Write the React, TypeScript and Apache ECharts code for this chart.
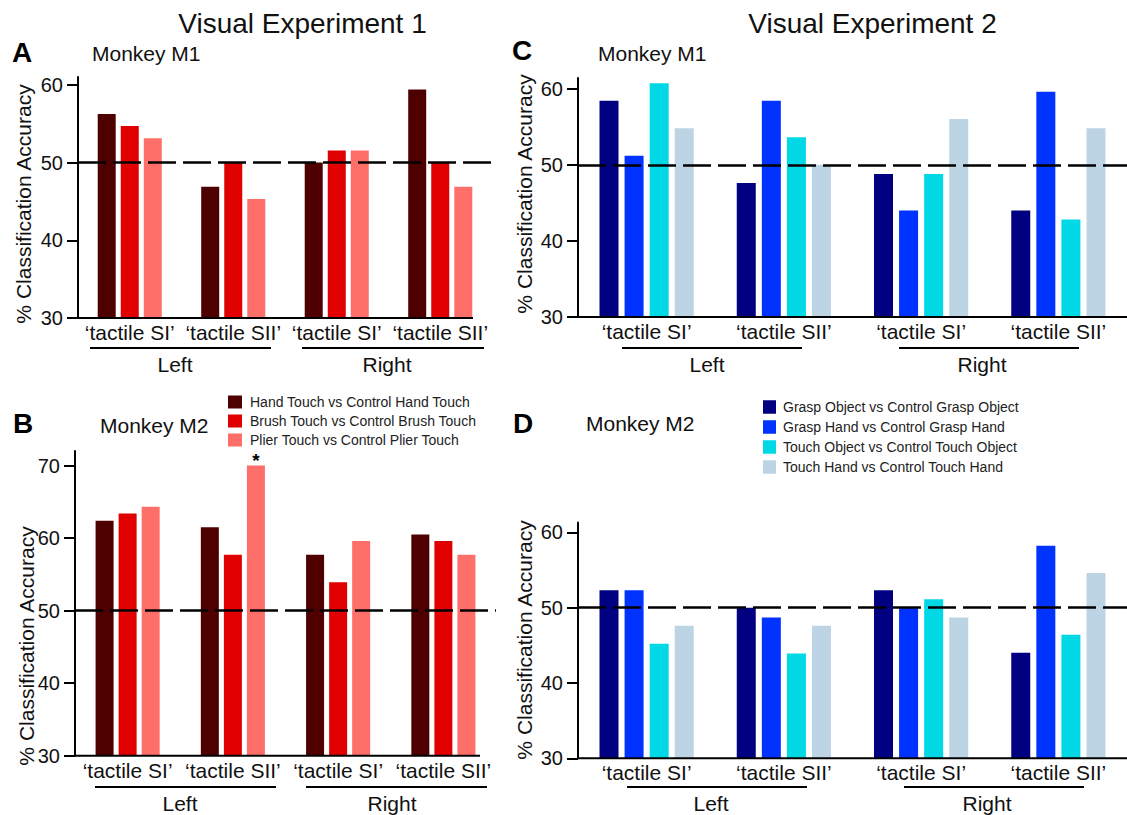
import React, { useEffect, useRef } from 'react';
import * as echarts from 'echarts';

// ---------- data ----------
const regionLabels = ['‘tactile SI’', '‘tactile SII’', '‘tactile SI’', '‘tactile SII’'];
const hemisphereLabels = ['Left', 'Right'];
const yTicksM1 = [30, 40, 50, 60];
const yTicksExp1M2 = [30, 40, 50, 60, 70];
const chanceLevel = 50;

const exp1Names = [
  'Hand Touch vs Control Hand Touch',
  'Brush Touch vs Control Brush Touch',
  'Plier Touch vs Control Plier Touch',
];
const exp2Names = [
  'Grasp Object vs Control Grasp Object',
  'Grasp Hand vs Control Grasp Hand',
  'Touch Object vs Control Touch Object',
  'Touch Hand vs Control Touch Hand',
];

// Visual Experiment 1, Monkey M1 (panel A)
const aHandTouch = [56.25, 46.88, 50.0, 59.38];
const aBrushTouch = [54.69, 50.0, 51.56, 50.0];
const aPlierTouch = [53.13, 45.31, 51.56, 46.88];

// Visual Experiment 1, Monkey M2 (panel B)
const bHandTouch = [62.4, 61.5, 57.7, 60.5];
const bBrushTouch = [63.4, 57.7, 53.9, 59.6];
const bPlierTouch = [64.3, 70.0, 59.6, 57.7];
const bSignificant = [false, true, false, false]; // Plier Touch marked with *

// Visual Experiment 2, Monkey M1 (panel C)
const cGraspObject = [58.4, 47.6, 48.8, 44.0];
const cGraspHand = [51.2, 58.4, 44.0, 59.6];
const cTouchObject = [60.7, 53.6, 48.8, 42.8];
const cTouchHand = [54.8, 50.0, 56.0, 54.8];

// Visual Experiment 2, Monkey M2 (panel D)
const dGraspObject = [52.3, 50.0, 52.3, 44.0];
const dGraspHand = [52.3, 48.7, 50.0, 58.2];
const dTouchObject = [45.2, 43.9, 51.1, 46.4];
const dTouchHand = [47.6, 47.6, 48.7, 54.6];

// ---------- styles ----------
const exp1Colors = ['#4e0000', '#e00000', '#ff6f69'];
const exp2Colors = ['#000080', '#0033ff', '#00d8e6', '#bcd4e3'];
const FONT = '"Liberation Sans", Arial, Helvetica, sans-serif';

type Panel = {
  letter: string;
  monkey: string;
  grid: { left: number; top: number; width: number; height: number };
  max: number;
  ticks: number[];
  names: string[];
  colors: string[];
  series: number[][];
  barWidth: number;
  barGap: string;
  axisEnd: number;
  letterPos: [number, number];
  monkeyPos: [number, number];
  yNamePos: [number, number];
  underlineY: number;
  groupLabelY: number;
  lines: [number, number][];
  groupCenters: number[];
  star?: boolean[];
};

const panels: Panel[] = [
  {
    letter: 'A', monkey: 'Monkey M1',
    grid: { left: 78, top: 77, width: 414, height: 241 },
    max: 61, ticks: yTicksM1, names: exp1Names, colors: exp1Colors,
    series: [aHandTouch, aBrushTouch, aPlierTouch],
    barWidth: 18, barGap: '28%', axisEnd: 473,
    letterPos: [12, 52], monkeyPos: [92, 53], yNamePos: [23, 204],
    underlineY: 348, groupLabelY: 364,
    lines: [[90, 271], [302, 484]], groupCenters: [175, 387],
  },
  {
    letter: 'B', monkey: 'Monkey M2',
    grid: { left: 75, top: 451, width: 421, height: 304.7 },
    max: 72, ticks: yTicksExp1M2, names: exp1Names, colors: exp1Colors,
    series: [bHandTouch, bBrushTouch, bPlierTouch],
    barWidth: 18, barGap: '28%', axisEnd: 480,
    letterPos: [13, 423], monkeyPos: [100, 425], yNamePos: [26, 646],
    underlineY: 787, groupLabelY: 803,
    lines: [[95, 276], [306, 487]], groupCenters: [180, 392],
    star: bSignificant,
  },
  {
    letter: 'C', monkey: 'Monkey M1',
    grid: { left: 578, top: 78, width: 552, height: 239 },
    max: 61.4, ticks: yTicksM1, names: exp2Names, colors: exp2Colors,
    series: [cGraspObject, cGraspHand, cTouchObject, cTouchHand],
    barWidth: 19, barGap: '32%', axisEnd: 1127,
    letterPos: [512, 50], monkeyPos: [598, 53], yNamePos: [524, 194],
    underlineY: 348, groupLabelY: 364,
    lines: [[622, 802], [899, 1079]], groupCenters: [707, 982],
  },
  {
    letter: 'D', monkey: 'Monkey M2',
    grid: { left: 578, top: 522.5, width: 552, height: 235.8 },
    max: 61.3, ticks: yTicksM1, names: exp2Names, colors: exp2Colors,
    series: [dGraspObject, dGraspHand, dTouchObject, dTouchHand],
    barWidth: 19, barGap: '32%', axisEnd: 1127,
    letterPos: [513, 423], monkeyPos: [586, 423], yNamePos: [524, 640],
    underlineY: 787, groupLabelY: 803,
    lines: [[627, 807], [904, 1084]], groupCenters: [711, 987],
  },
];

function buildOption() {
  const grids: any[] = [];
  const xAxes: any[] = [];
  const yAxes: any[] = [];
  const series: any[] = [];
  const graphic: any[] = [];

  graphic.push(
    { type: 'text', x: 302.5, y: 23, style: { text: 'Visual Experiment 1', font: `28px ${FONT}`, fill: '#111', align: 'center', verticalAlign: 'middle' } },
    { type: 'text', x: 872.5, y: 23, style: { text: 'Visual Experiment 2', font: `28px ${FONT}`, fill: '#111', align: 'center', verticalAlign: 'middle' } },
  );

  panels.forEach((p, pi) => {
    grids.push({ ...p.grid, containLabel: false });
    xAxes.push({
      type: 'category',
      gridIndex: pi,
      data: regionLabels,
      axisLine: { show: false },
      axisTick: { show: false },
      axisLabel: { fontSize: 21, color: '#111', fontFamily: FONT, margin: 4, interval: 0 },
      splitLine: { show: false },
    });
    yAxes.push({
      type: 'value',
      gridIndex: pi,
      min: 30,
      max: p.max,
      interval: 10,
      axisLine: { show: true, lineStyle: { color: '#000', width: 2 } },
      axisTick: { show: true, length: 11, inside: false, lineStyle: { color: '#000', width: 2 }, customValues: p.ticks },
      axisLabel: { show: true, fontSize: 20, color: '#111', fontFamily: FONT, margin: 15, customValues: p.ticks },
      splitLine: { show: false },
    });

    p.series.forEach((vals, si) => {
      const s: any = {
        type: 'bar',
        name: p.names[si],
        xAxisIndex: pi,
        yAxisIndex: pi,
        barWidth: p.barWidth,
        barGap: p.barGap,
        itemStyle: { color: p.colors[si] },
        data: vals.map((v, ci) => {
          if (p.star && si === p.series.length - 1 && p.star[ci]) {
            return {
              value: v,
              label: {
                show: true, position: 'top', formatter: '*',
                fontSize: 19, lineHeight: 12, fontWeight: 'bold', color: '#000', fontFamily: FONT, distance: -1,
              },
            };
          }
          return v;
        }),
      };
      if (si === 0) {
        s.markLine = {
          silent: true,
          symbol: ['none', 'none'],
          label: { show: false },
          lineStyle: { color: '#000', type: [28, 7], width: 2.5 },
          data: [{ yAxis: chanceLevel }],
          z: 10,
        };
      }
      series.push(s);
    });

    // x-axis baseline
    const yBase = p.grid.top + p.grid.height;
    graphic.push({
      type: 'line',
      shape: { x1: p.grid.left, y1: yBase, x2: p.axisEnd, y2: yBase },
      style: { stroke: '#000', lineWidth: 2 },
      z: 100,
    });
    // panel letter and monkey label
    graphic.push({ type: 'text', x: p.letterPos[0], y: p.letterPos[1], style: { text: p.letter, font: `bold 28px ${FONT}`, fill: '#000', verticalAlign: 'middle' } });
    graphic.push({ type: 'text', x: p.monkeyPos[0], y: p.monkeyPos[1], style: { text: p.monkey, font: `21px ${FONT}`, fill: '#111', verticalAlign: 'middle' } });
    // y axis name
    graphic.push({
      type: 'text', x: p.yNamePos[0], y: p.yNamePos[1], rotation: Math.PI / 2,
      style: { text: '% Classification Accuracy', font: `21px ${FONT}`, fill: '#111', align: 'center', verticalAlign: 'middle' },
    });
    // hemisphere groupings
    p.lines.forEach((ln, gi) => {
      graphic.push({
        type: 'line',
        shape: { x1: ln[0], y1: p.underlineY, x2: ln[1], y2: p.underlineY },
        style: { stroke: '#000', lineWidth: 2 },
      });
      graphic.push({
        type: 'text', x: p.groupCenters[gi], y: p.groupLabelY,
        style: { text: hemisphereLabels[gi], font: `21px ${FONT}`, fill: '#111', align: 'center', verticalAlign: 'middle' },
      });
    });
  });

  const legends = [
    {
      data: exp1Names,
      left: 223, top: 390,
      orient: 'vertical',
      icon: 'rect',
      itemWidth: 14, itemHeight: 13, itemGap: 5,
      textStyle: { fontSize: 14, lineHeight: 14, color: '#222', fontFamily: FONT, padding: [0, 0, 0, 3] },
      selectedMode: false,
    },
    {
      data: exp2Names,
      left: 758, top: 395,
      orient: 'vertical',
      icon: 'rect',
      itemWidth: 13, itemHeight: 13.5, itemGap: 6,
      textStyle: { fontSize: 14, lineHeight: 14, color: '#222', fontFamily: FONT, padding: [0, 0, 0, 2] },
      selectedMode: false,
    },
  ];

  return {
    animation: false,
    backgroundColor: '#fff',
    textStyle: { fontFamily: FONT },
    grid: grids,
    xAxis: xAxes,
    yAxis: yAxes,
    legend: legends,
    series,
    graphic,
  };
}

export default function App() {
  const ref = useRef<HTMLDivElement>(null);
  useEffect(() => {
    if (!ref.current) return;
    const chart = echarts.init(ref.current, undefined, { renderer: 'svg' });
    chart.setOption(buildOption() as any);
    return () => chart.dispose();
  }, []);
  return (
    <div
      ref={ref}
      style={{ position: 'absolute', left: 0, top: 0, width: 1127, height: 815, background: '#fff' }}
    />
  );
}
